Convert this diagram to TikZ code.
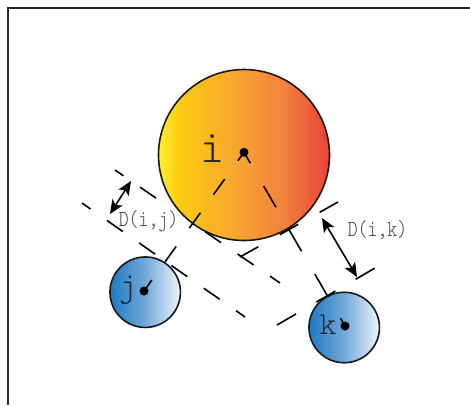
\documentclass[tikz,border=0pt]{standalone}
\usepackage{fontspec}
\usetikzlibrary{arrows.meta}
\newfontfamily\lightmono{lmmonolt10-regular.otf}
\definecolor{iyA}{RGB}{255,238,52}
\definecolor{iyB}{RGB}{253,203,16}
\definecolor{ioA}{RGB}{248,170,45}
\definecolor{ioB}{RGB}{242,128,62}
\definecolor{irA}{RGB}{232,66,56}
\definecolor{bA}{RGB}{30,122,196}
\definecolor{bB}{RGB}{115,168,216}
\definecolor{bC}{RGB}{238,245,251}
\definecolor{framecol}{RGB}{40,40,40}
\definecolor{labcol}{RGB}{70,70,70}
\pgfdeclarehorizontalshading{ishade}{100bp}{color(0bp)=(iyA); color(25bp)=(iyA); color(31bp)=(iyB); color(46bp)=(ioA); color(62bp)=(ioB); color(75bp)=(irA); color(100bp)=(irA)}
\pgfdeclarehorizontalshading{bshade}{100bp}{color(0bp)=(bA); color(25bp)=(bA); color(50bp)=(bB); color(75bp)=(bC); color(100bp)=(bC)}
\tikzset{
  ball/.style={circle, draw=black!90, line width=1.6pt, inner sep=0pt},
  bigball/.style={ball, minimum size=171pt, shading=ishade},
  smallball/.style={ball, minimum size=70.5pt, shading=bshade},
  cdot/.style={circle, fill=black, inner sep=0pt, minimum size=9pt},
  dline/.style={line width=1.6pt, line cap=butt},
  darrow/.style={line width=1.6pt, {Stealth[length=14pt,width=12pt,inset=3.5pt]}-{Stealth[length=14pt,width=12pt,inset=3.5pt]}},
  letter/.style={text=black!85, inner sep=0pt, anchor=base},
  dlabel/.style={font=\lightmono\fontsize{23}{23}\selectfont, text=labcol, inner sep=0pt, anchor=base},
}
\begin{document}
\begin{tikzpicture}[x=1pt,y=-1pt]
\useasboundingbox (0,0) rectangle (470,405);
% frame
\draw[framecol, line width=2pt] (8.3,405) -- (8.3,8.3) -- (470,8.3);
% circles
\node[bigball] (i) at (244,155) {};
\node[smallball] (j) at (145.2,292.2) {};
\node[smallball] (k) at (344.2,327.5) {};
% centre points
\coordinate (ic) at (244,152.3);
\coordinate (jc) at (144,291);
\coordinate (kc) at (345,326);
% tangent line end points
\coordinate (a1) at (115,170);
\coordinate (a2) at (160.4,201.1);
\coordinate (a3) at (197.5,226.5);
\coordinate (a4) at (280,283);
\coordinate (b1) at (82,203);
\coordinate (b2) at (245,317);
\coordinate (c1) at (240,257);
\coordinate (c2) at (338,202);
\coordinate (d1) at (277,325);
\coordinate (d2) at (375,268);
% centre lines
\draw[dline, dash pattern=on 19pt off 22.5pt, dash phase=8.5pt] (ic) -- (jc);
\draw[dline, dash pattern=on 24.5pt off 26.5pt, dash phase=12pt] (ic) -- (kc);
% tangent lines i-j
\draw[dline, dash pattern=on 19.4pt off 20pt, dash phase=9.1pt] (a1) -- (a2);
\draw[dline, dash pattern=on 19.4pt off 20pt, dash phase=30.3pt] (a3) -- (a4);
\draw[dline, dash pattern=on 19.4pt off 20pt, dash phase=9pt] (b1) -- (b2);
% tangent lines i-k
\draw[dline, dash pattern=on 21pt off 24.7pt] (c1) -- (c2);
\draw[dline, dash pattern=on 22pt off 23.5pt] (d1) -- (d2);
% centre dots
\node[cdot] (idot) at (ic) {};
\node[cdot] (jdot) at (jc) {};
\node[cdot] (kdot) at (kc) {};
% distance arrows
\coordinate (p1) at (131,181);
\coordinate (p2) at (110,214);
\coordinate (q1) at (322,218);
\coordinate (q2) at (357,277);
\draw[darrow] (p1) -- (p2);
\draw[darrow] (q1) -- (q2);
% labels
\node[letter, font=\lightmono\fontsize{46}{46}\selectfont] (il) at (212.5,162) {i};
\node[letter, font=\lightmono\fontsize{34}{34}\selectfont] (jl) at (128,296) {j};
\node[letter, font=\lightmono\fontsize{32}{32}\selectfont] (kl) at (328,334) {k};
\node[dlabel] (dij) at (148.5,226) {\scalebox{0.82}[1]{D(i,j)}};
\node[dlabel] (dik) at (377.5,236.5) {\scalebox{0.82}[1]{D(i,k)}};
\end{tikzpicture}
\end{document}
